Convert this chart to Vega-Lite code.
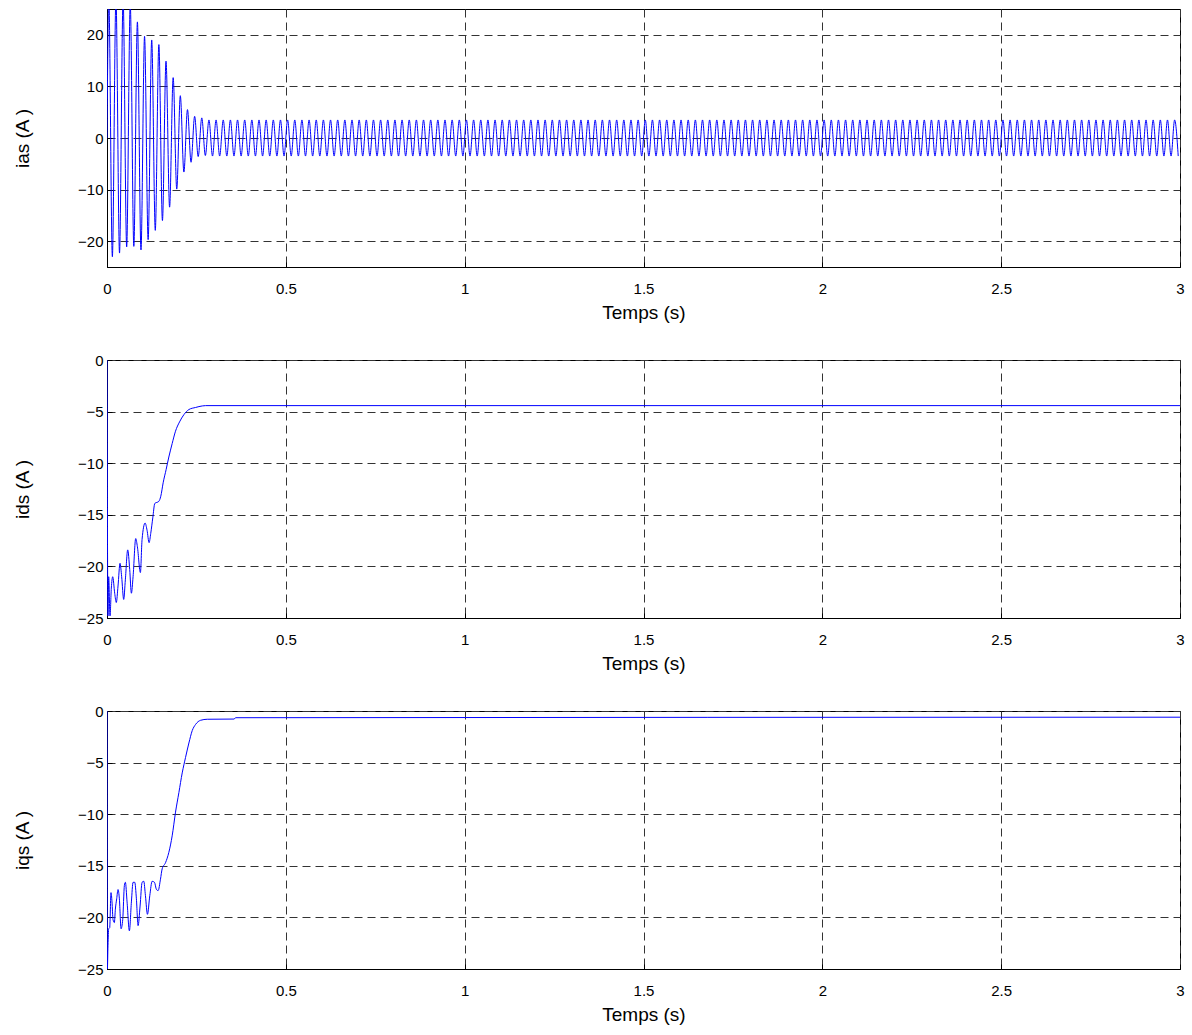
{
 "$schema": "https://vega.github.io/schema/vega-lite/v6.json",
 "padding": {"left": 13, "top": 8, "right": 8, "bottom": 4},
 "background": "white",
 "bounds": "flush",
 "spacing": 93,
 "config": {
  "font": "Liberation Sans",
  "view": {"stroke": "#000", "strokeWidth": 1},
  "axis": {
   "domainColor": "#000", "tickColor": "#000", "tickSize": -5, "ticks": true,
   "gridColor": "#333", "gridDash": [8, 5], "gridOpacity": 1, "gridWidth": 1,
   "labelFont": "Liberation Sans", "labelFontSize": 15, "labelColor": "#000",
   "titleFont": "Liberation Sans", "titleFontSize": 19, "titleFontWeight": "normal", "titleColor": "#000",
   "labelFlush": false
  },
  "axisX": {"labelPadding": 19, "titlePadding": 7},
  "axisY": {"labelPadding": 9, "titlePadding": 45}
 },
 "datasets": {
  "ias": [
   {"t":0,"i":0},{"t":0.005,"i":27},{"t":0.015,"i":-23.0},{"t":0.025,"i":27},{"t":0.035,"i":-22.3},{"t":0.045,"i":27},{"t":0.055,"i":-21.1},{"t":0.065,"i":26},{"t":0.075,"i":-21.0},{"t":0.085,"i":22.5},{"t":0.095,"i":-21.7},
   {"t":0.105,"i":19.7},{"t":0.115,"i":-19.7},{"t":0.125,"i":19.0},{"t":0.135,"i":-17.9},{"t":0.145,"i":18.1},{"t":0.155,"i":-16.0},{"t":0.165,"i":14.9},{"t":0.175,"i":-13.4},{"t":0.185,"i":11.7},{"t":0.195,"i":-9.9},
   {"t":0.205,"i":8.2},{"t":0.215,"i":-6.6},{"t":0.225,"i":5.5},{"t":0.235,"i":-4.7},{"t":0.245,"i":4.2},{"t":0.255,"i":-3.6},{"t":0.265,"i":3.9},{"t":0.275,"i":-3.4},{"t":0.285,"i":3.5},{"t":0.295,"i":-3.5},
   {"t":0.305,"i":3.5},{"t":0.315,"i":-3.5},{"t":0.325,"i":3.5},{"t":0.335,"i":-3.5},{"t":0.345,"i":3.5},{"t":0.355,"i":-3.5},{"t":0.365,"i":3.5},{"t":0.375,"i":-3.5},{"t":0.385,"i":3.5},{"t":0.395,"i":-3.5},
   {"t":0.405,"i":3.5},{"t":0.415,"i":-3.5},{"t":0.425,"i":3.5},{"t":0.435,"i":-3.5},{"t":0.445,"i":3.5},{"t":0.455,"i":-3.5},{"t":0.465,"i":3.5},{"t":0.475,"i":-3.5},{"t":0.485,"i":3.5},{"t":0.495,"i":-3.5},
   {"t":0.505,"i":3.5},{"t":0.515,"i":-3.5},{"t":0.525,"i":3.5},{"t":0.535,"i":-3.5},{"t":0.545,"i":3.5},{"t":0.555,"i":-3.5},{"t":0.565,"i":3.5},{"t":0.575,"i":-3.5},{"t":0.585,"i":3.5},{"t":0.595,"i":-3.5},
   {"t":0.605,"i":3.5},{"t":0.615,"i":-3.5},{"t":0.625,"i":3.5},{"t":0.635,"i":-3.5},{"t":0.645,"i":3.5},{"t":0.655,"i":-3.5},{"t":0.665,"i":3.5},{"t":0.675,"i":-3.5},{"t":0.685,"i":3.5},{"t":0.695,"i":-3.5},
   {"t":0.705,"i":3.5},{"t":0.715,"i":-3.5},{"t":0.725,"i":3.5},{"t":0.735,"i":-3.5},{"t":0.745,"i":3.5},{"t":0.755,"i":-3.5},{"t":0.765,"i":3.5},{"t":0.775,"i":-3.5},{"t":0.785,"i":3.5},{"t":0.795,"i":-3.5},
   {"t":0.805,"i":3.5},{"t":0.815,"i":-3.5},{"t":0.825,"i":3.5},{"t":0.835,"i":-3.5},{"t":0.845,"i":3.5},{"t":0.855,"i":-3.5},{"t":0.865,"i":3.5},{"t":0.875,"i":-3.5},{"t":0.885,"i":3.5},{"t":0.895,"i":-3.5},
   {"t":0.905,"i":3.5},{"t":0.915,"i":-3.5},{"t":0.925,"i":3.5},{"t":0.935,"i":-3.5},{"t":0.945,"i":3.5},{"t":0.955,"i":-3.5},{"t":0.965,"i":3.5},{"t":0.975,"i":-3.5},{"t":0.985,"i":3.5},{"t":0.995,"i":-3.5},
   {"t":1.005,"i":3.5},{"t":1.015,"i":-3.5},{"t":1.025,"i":3.5},{"t":1.035,"i":-3.5},{"t":1.045,"i":3.5},{"t":1.055,"i":-3.5},{"t":1.065,"i":3.5},{"t":1.075,"i":-3.5},{"t":1.085,"i":3.5},{"t":1.095,"i":-3.5},
   {"t":1.105,"i":3.5},{"t":1.115,"i":-3.5},{"t":1.125,"i":3.5},{"t":1.135,"i":-3.5},{"t":1.145,"i":3.5},{"t":1.155,"i":-3.5},{"t":1.165,"i":3.5},{"t":1.175,"i":-3.5},{"t":1.185,"i":3.5},{"t":1.195,"i":-3.5},
   {"t":1.205,"i":3.5},{"t":1.215,"i":-3.5},{"t":1.225,"i":3.5},{"t":1.235,"i":-3.5},{"t":1.245,"i":3.5},{"t":1.255,"i":-3.5},{"t":1.265,"i":3.5},{"t":1.275,"i":-3.5},{"t":1.285,"i":3.5},{"t":1.295,"i":-3.5},
   {"t":1.305,"i":3.5},{"t":1.315,"i":-3.5},{"t":1.325,"i":3.5},{"t":1.335,"i":-3.5},{"t":1.345,"i":3.5},{"t":1.355,"i":-3.5},{"t":1.365,"i":3.5},{"t":1.375,"i":-3.5},{"t":1.385,"i":3.5},{"t":1.395,"i":-3.5},
   {"t":1.405,"i":3.5},{"t":1.415,"i":-3.5},{"t":1.425,"i":3.5},{"t":1.435,"i":-3.5},{"t":1.445,"i":3.5},{"t":1.455,"i":-3.5},{"t":1.465,"i":3.5},{"t":1.475,"i":-3.5},{"t":1.485,"i":3.5},{"t":1.495,"i":-3.5},
   {"t":1.505,"i":3.5},{"t":1.515,"i":-3.5},{"t":1.525,"i":3.5},{"t":1.535,"i":-3.5},{"t":1.545,"i":3.5},{"t":1.555,"i":-3.5},{"t":1.565,"i":3.5},{"t":1.575,"i":-3.5},{"t":1.585,"i":3.5},{"t":1.595,"i":-3.5},
   {"t":1.605,"i":3.5},{"t":1.615,"i":-3.5},{"t":1.625,"i":3.5},{"t":1.635,"i":-3.5},{"t":1.645,"i":3.5},{"t":1.655,"i":-3.5},{"t":1.665,"i":3.5},{"t":1.675,"i":-3.5},{"t":1.685,"i":3.5},{"t":1.695,"i":-3.5},
   {"t":1.705,"i":3.5},{"t":1.715,"i":-3.5},{"t":1.725,"i":3.5},{"t":1.735,"i":-3.5},{"t":1.745,"i":3.5},{"t":1.755,"i":-3.5},{"t":1.765,"i":3.5},{"t":1.775,"i":-3.5},{"t":1.785,"i":3.5},{"t":1.795,"i":-3.5},
   {"t":1.805,"i":3.5},{"t":1.815,"i":-3.5},{"t":1.825,"i":3.5},{"t":1.835,"i":-3.5},{"t":1.845,"i":3.5},{"t":1.855,"i":-3.5},{"t":1.865,"i":3.5},{"t":1.875,"i":-3.5},{"t":1.885,"i":3.5},{"t":1.895,"i":-3.5},
   {"t":1.905,"i":3.5},{"t":1.915,"i":-3.5},{"t":1.925,"i":3.5},{"t":1.935,"i":-3.5},{"t":1.945,"i":3.5},{"t":1.955,"i":-3.5},{"t":1.965,"i":3.5},{"t":1.975,"i":-3.5},{"t":1.985,"i":3.5},{"t":1.995,"i":-3.5},
   {"t":2.005,"i":3.5},{"t":2.015,"i":-3.5},{"t":2.025,"i":3.5},{"t":2.035,"i":-3.5},{"t":2.045,"i":3.5},{"t":2.055,"i":-3.5},{"t":2.065,"i":3.5},{"t":2.075,"i":-3.5},{"t":2.085,"i":3.5},{"t":2.095,"i":-3.5},
   {"t":2.105,"i":3.5},{"t":2.115,"i":-3.5},{"t":2.125,"i":3.5},{"t":2.135,"i":-3.5},{"t":2.145,"i":3.5},{"t":2.155,"i":-3.5},{"t":2.165,"i":3.5},{"t":2.175,"i":-3.5},{"t":2.185,"i":3.5},{"t":2.195,"i":-3.5},
   {"t":2.205,"i":3.5},{"t":2.215,"i":-3.5},{"t":2.225,"i":3.5},{"t":2.235,"i":-3.5},{"t":2.245,"i":3.5},{"t":2.255,"i":-3.5},{"t":2.265,"i":3.5},{"t":2.275,"i":-3.5},{"t":2.285,"i":3.5},{"t":2.295,"i":-3.5},
   {"t":2.305,"i":3.5},{"t":2.315,"i":-3.5},{"t":2.325,"i":3.5},{"t":2.335,"i":-3.5},{"t":2.345,"i":3.5},{"t":2.355,"i":-3.5},{"t":2.365,"i":3.5},{"t":2.375,"i":-3.5},{"t":2.385,"i":3.5},{"t":2.395,"i":-3.5},
   {"t":2.405,"i":3.5},{"t":2.415,"i":-3.5},{"t":2.425,"i":3.5},{"t":2.435,"i":-3.5},{"t":2.445,"i":3.5},{"t":2.455,"i":-3.5},{"t":2.465,"i":3.5},{"t":2.475,"i":-3.5},{"t":2.485,"i":3.5},{"t":2.495,"i":-3.5},
   {"t":2.505,"i":3.5},{"t":2.515,"i":-3.5},{"t":2.525,"i":3.5},{"t":2.535,"i":-3.5},{"t":2.545,"i":3.5},{"t":2.555,"i":-3.5},{"t":2.565,"i":3.5},{"t":2.575,"i":-3.5},{"t":2.585,"i":3.5},{"t":2.595,"i":-3.5},
   {"t":2.605,"i":3.5},{"t":2.615,"i":-3.5},{"t":2.625,"i":3.5},{"t":2.635,"i":-3.5},{"t":2.645,"i":3.5},{"t":2.655,"i":-3.5},{"t":2.665,"i":3.5},{"t":2.675,"i":-3.5},{"t":2.685,"i":3.5},{"t":2.695,"i":-3.5},
   {"t":2.705,"i":3.5},{"t":2.715,"i":-3.5},{"t":2.725,"i":3.5},{"t":2.735,"i":-3.5},{"t":2.745,"i":3.5},{"t":2.755,"i":-3.5},{"t":2.765,"i":3.5},{"t":2.775,"i":-3.5},{"t":2.785,"i":3.5},{"t":2.795,"i":-3.5},
   {"t":2.805,"i":3.5},{"t":2.815,"i":-3.5},{"t":2.825,"i":3.5},{"t":2.835,"i":-3.5},{"t":2.845,"i":3.5},{"t":2.855,"i":-3.5},{"t":2.865,"i":3.5},{"t":2.875,"i":-3.5},{"t":2.885,"i":3.5},{"t":2.895,"i":-3.5},
   {"t":2.905,"i":3.5},{"t":2.915,"i":-3.5},{"t":2.925,"i":3.5},{"t":2.935,"i":-3.5},{"t":2.945,"i":3.5},{"t":2.955,"i":-3.5},{"t":2.965,"i":3.5},{"t":2.975,"i":-3.5},{"t":2.985,"i":3.5},{"t":2.995,"i":-3.5}
  ],
  "ids": [
   {"t":0,"i":0},{"t":0.0027,"i":-24.8},{"t":0.0047,"i":-21.0},{"t":0.0084,"i":-24.8},{"t":0.0121,"i":-22.1},{"t":0.0159,"i":-21.0},{"t":0.0215,"i":-22.6},{"t":0.026,"i":-23.5},
   {"t":0.0308,"i":-21.9},{"t":0.0364,"i":-19.7},{"t":0.041,"i":-21.0},{"t":0.0467,"i":-23.2},{"t":0.0513,"i":-21.3},{"t":0.0579,"i":-18.4},{"t":0.0635,"i":-20.3},{"t":0.0682,"i":-22.6},
   {"t":0.0729,"i":-21.0},{"t":0.0803,"i":-17.3},{"t":0.085,"i":-18.1},{"t":0.0934,"i":-20.6},{"t":0.098,"i":-17.4},{"t":0.1065,"i":-15.8},{"t":0.112,"i":-16.5},{"t":0.1177,"i":-17.7},
   {"t":0.1223,"i":-16.8},{"t":0.128,"i":-15.3},{"t":0.1336,"i":-13.9},{"t":0.1448,"i":-13.7},{"t":0.1504,"i":-13.2},{"t":0.157,"i":-11.9},{"t":0.1654,"i":-10.6},{"t":0.1729,"i":-9.4},
   {"t":0.1822,"i":-8.1},{"t":0.1915,"i":-6.9},{"t":0.2028,"i":-6.0},{"t":0.2149,"i":-5.3},{"t":0.229,"i":-4.8},{"t":0.2477,"i":-4.6},{"t":0.2664,"i":-4.45},{"t":0.2757,"i":-4.42},{"t":3.0,"i":-4.42}
  ],
  "iqs": [
   {"t":0,"i":0},{"t":0.001,"i":-25},{"t":0.0028,"i":-22.7},{"t":0.0047,"i":-21.1},{"t":0.0075,"i":-21.0},{"t":0.0112,"i":-17.6},{"t":0.014,"i":-18.5},{"t":0.0168,"i":-20.2},
   {"t":0.0206,"i":-20.5},{"t":0.0234,"i":-19.2},{"t":0.0271,"i":-18.2},{"t":0.0308,"i":-17.3},{"t":0.0346,"i":-18.2},{"t":0.0393,"i":-21.1},{"t":0.044,"i":-20.2},{"t":0.0486,"i":-16.9},
   {"t":0.0514,"i":-16.6},{"t":0.0561,"i":-18.5},{"t":0.0626,"i":-21.3},{"t":0.0682,"i":-18.5},{"t":0.0729,"i":-16.6},{"t":0.0776,"i":-16.6},{"t":0.0822,"i":-18.2},{"t":0.0869,"i":-20.8},
   {"t":0.0925,"i":-18.9},{"t":0.0981,"i":-16.6},{"t":0.1028,"i":-16.5},{"t":0.1075,"i":-17.9},{"t":0.1131,"i":-19.7},{"t":0.1196,"i":-17.9},{"t":0.1262,"i":-16.5},{"t":0.1327,"i":-16.6},
   {"t":0.1383,"i":-17.3},{"t":0.143,"i":-17.4},{"t":0.1495,"i":-16.3},{"t":0.1542,"i":-15.3},{"t":0.1636,"i":-14.7},{"t":0.1729,"i":-13.7},{"t":0.1822,"i":-12.1},{"t":0.1916,"i":-9.8},
   {"t":0.201,"i":-7.9},{"t":0.2103,"i":-6.0},{"t":0.2196,"i":-4.5},{"t":0.229,"i":-3.1},{"t":0.2383,"i":-1.9},{"t":0.2477,"i":-1.3},{"t":0.2617,"i":-0.9},{"t":0.2804,"i":-0.8},
   {"t":0.355,"i":-0.78},{"t":0.36,"i":-0.65},{"t":3.0,"i":-0.6}
  ]
 },
 "vconcat": [
  {
   "width": 1073, "height": 258,
   "data": {"name": "ias"},
   "mark": {"type": "line", "clip": true, "interpolate": "monotone", "color": "#0000ff", "strokeWidth": 1},
   "encoding": {
    "x": {"field": "t", "type": "quantitative", "scale": {"domain": [0, 3], "nice": false}, "axis": {"values": [0, 0.5, 1, 1.5, 2, 2.5, 3], "format": "~g", "title": "Temps (s)"}},
    "y": {"field": "i", "type": "quantitative", "scale": {"domain": [-25, 25], "nice": false}, "axis": {"values": [-20, -10, 0, 10, 20], "title": "ias (A )"}}
   }
  },
  {
   "width": 1073, "height": 258,
   "data": {"name": "ids"},
   "mark": {"type": "line", "clip": true, "interpolate": "monotone", "color": "#0000ff", "strokeWidth": 1},
   "encoding": {
    "x": {"field": "t", "type": "quantitative", "scale": {"domain": [0, 3], "nice": false}, "axis": {"values": [0, 0.5, 1, 1.5, 2, 2.5, 3], "format": "~g", "title": "Temps (s)"}},
    "y": {"field": "i", "type": "quantitative", "scale": {"domain": [-25, 0], "nice": false}, "axis": {"values": [-25, -20, -15, -10, -5, 0], "title": "ids (A )"}}
   }
  },
  {
   "width": 1073, "height": 258,
   "data": {"name": "iqs"},
   "mark": {"type": "line", "clip": true, "interpolate": "monotone", "color": "#0000ff", "strokeWidth": 1},
   "encoding": {
    "x": {"field": "t", "type": "quantitative", "scale": {"domain": [0, 3], "nice": false}, "axis": {"values": [0, 0.5, 1, 1.5, 2, 2.5, 3], "format": "~g", "title": "Temps (s)"}},
    "y": {"field": "i", "type": "quantitative", "scale": {"domain": [-25, 0], "nice": false}, "axis": {"values": [-25, -20, -15, -10, -5, 0], "title": "iqs (A )"}}
   }
  }
 ]
}
